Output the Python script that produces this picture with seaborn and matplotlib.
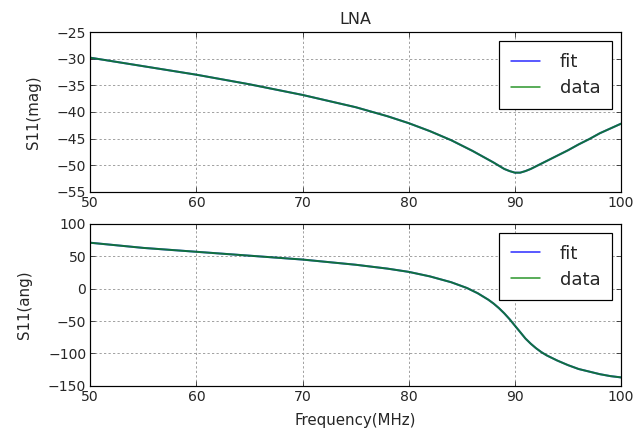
import numpy as np
import pandas as pd
import matplotlib
matplotlib.use("Agg")
import matplotlib.pyplot as plt
import seaborn as sns

freq_mag = [50, 55, 60, 65, 70, 75, 78, 80, 82, 84, 85, 86, 87, 88, 88.5, 89, 89.5, 90, 90.5, 91, 91.5,
            92, 93, 94, 95, 96, 97, 98, 99, 100]
mag_vals = [-29.8, -31.4, -33.0, -34.8, -36.8, -39.1, -40.8, -42.1, -43.6, -45.3, -46.3, -47.3, -48.4,
            -49.5, -50.1, -50.7, -51.1, -51.4, -51.4, -51.1, -50.7, -50.2, -49.2, -48.2, -47.2, -46.1,
            -45.1, -44.0, -43.1, -42.2]

freq_ang = [50, 55, 60, 65, 70, 75, 78, 80, 82, 84, 85, 85.5, 86, 86.5, 87, 87.5, 88, 88.5, 89, 89.5, 90,
            90.5, 91, 91.5, 92, 92.5, 93, 94, 95, 96, 97, 98, 99, 100]
ang_vals = [71, 63, 57, 51, 45, 37, 31, 26, 19, 10, 4, 1, -3, -7, -12, -17, -23, -30, -38, -47, -57,
            -67, -77, -85, -92, -98, -103, -111, -118, -124, -128, -132, -135, -137]

series = ["fit", "data"]
colors = {"fit": (0, 0, 1), "data": (0, 0.5, 0)}

sns.set_style("ticks")
plt.rcParams['font.family'] = ['DejaVu Sans']

df_mag = pd.concat([pd.DataFrame({"Frequency": freq_mag, "val": mag_vals, "series": s}) for s in series])
df_ang = pd.concat([pd.DataFrame({"Frequency": freq_ang, "val": ang_vals, "series": s}) for s in series])

fig = plt.figure(figsize=(635 / 72, 434 / 72), dpi=72, facecolor="white")
ax1 = fig.add_axes([0.142, 0.558, 0.836, 0.368])
ax2 = fig.add_axes([0.142, 0.111, 0.836, 0.373])

for ax, df, ylim, yticks, ylabel in [
    (ax1, df_mag, (-55, -25), np.arange(-55, -24, 5), "S11(mag)"),
    (ax2, df_ang, (-150, 100), np.arange(-150, 101, 50), "S11(ang)"),
]:
    sns.lineplot(data=df, x="Frequency", y="val", hue="series", palette=colors, ax=ax,
                 linewidth=2, sort=False, alpha=0.75)
    ax.set_xlim(50, 100)
    ax.set_ylim(*ylim)
    ax.set_yticks(yticks)
    ax.set_xticks(np.arange(50, 101, 10))
    ax.grid(True, linestyle=(0, (2.5, 2.5)), color='0.6', linewidth=0.9)
    ax.tick_params(direction='in', length=5, top=True, right=True, labelsize=14, pad=4)
    for sp in ax.spines.values():
        sp.set_visible(True)
        sp.set_color('black')
        sp.set_linewidth(1.2)
    ax.set_ylabel(ylabel, fontsize=15, labelpad=16)
    ax.set_xlabel("")
    leg = ax.legend(loc="upper right", fontsize=18, frameon=True, fancybox=False, edgecolor="black",
                    framealpha=1, handlelength=1.6, borderpad=0.65, labelspacing=0.45, handletextpad=1.1,
                    borderaxespad=0.5)
    leg.get_frame().set_linewidth(1.2)
    for line in leg.get_lines():
        line.set_linewidth(1.5)
        line.set_alpha(0.85)

ax1.set_title("LNA", fontsize=16, pad=8)
ax2.set_xlabel("Frequency(MHz)", fontsize=15, labelpad=9)

fig.savefig("out.png", dpi=72, facecolor="white")
